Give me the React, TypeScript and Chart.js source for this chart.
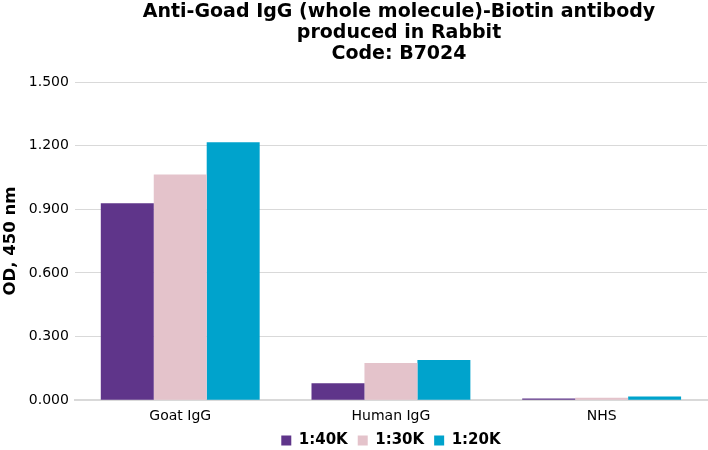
import { useEffect, useRef } from 'react';
import { Chart, registerables } from 'chart.js';

Chart.register(...registerables);

const categories = ['Goat IgG', 'Human IgG', 'NHS'];
const dilutions = ['1:40K', '1:30K', '1:20K'];
const values40k = [0.929, 0.080, 0.008];
const values30k = [1.064, 0.175, 0.012];
const values20k = [1.216, 0.190, 0.018];
const colors = ['#5f358a', '#e4c3cb', '#00a3cc'];
const titleLines = [
  'Anti-Goad IgG (whole molecule)-Biotin antibody',
  'produced in Rabbit',
  'Code: B7024',
];

const FONT = 'DejaVu Sans';

// draws the title lines centred where the reference has them
const titlePlugin = {
  id: 'customTitle',
  afterDraw(chart: Chart) {
    const { ctx } = chart;
    ctx.save();
    ctx.fillStyle = '#000';
    ctx.font = `bold 19px "${FONT}"`;
    ctx.textAlign = 'center';
    ctx.textBaseline = 'alphabetic';
    titleLines.forEach((line, i) => {
      ctx.fillText(line, 399, 17 + i * 21);
    });
    ctx.restore();
  },
};

export default function App() {
  const canvasRef = useRef<HTMLCanvasElement>(null);
  const chartRef = useRef<Chart | null>(null);

  useEffect(() => {
    if (!canvasRef.current) return;
    chartRef.current?.destroy();
    const series = [values40k, values30k, values20k];

    chartRef.current = new Chart(canvasRef.current, {
      type: 'bar',
      data: {
        labels: categories,
        datasets: dilutions.map((label, i) => ({
          label,
          data: series[i],
          backgroundColor: colors[i],
          borderWidth: 0,
          barPercentage: 1,
          categoryPercentage: 0.754,
        })),
      },
      options: {
        responsive: false,
        animation: false,
        layout: { padding: { top: 82, right: 1, left: 0, bottom: -8 } },
        plugins: {
          title: { display: false },
          tooltip: { enabled: false },
          legend: {
            position: 'bottom',
            fullSize: false,
            labels: {
              boxWidth: 10,
              boxHeight: 10,
              padding: 10,
              color: '#000',
              font: { family: FONT, size: 15, weight: 'bold' },
            },
          },
        },
        scales: {
          x: {
            grid: { display: false, drawTicks: false },
            border: { color: '#d9d9d9', width: 2 },
            ticks: { color: '#000', font: { family: FONT, size: 14 }, padding: 8 },
            afterFit: (scale) => {
              scale.height -= 10;
            },
          },
          y: {
            min: 0,
            max: 1.5,
            ticks: {
              stepSize: 0.3,
              color: '#000',
              padding: 6,
              font: { family: FONT, size: 14 },
              callback: (v) => Number(v).toFixed(3),
            },
            grid: { color: '#d9d9d9', lineWidth: 1, drawTicks: false },
            border: { display: false },
            title: {
              display: true,
              text: 'OD, 450 nm',
              color: '#000',
              font: { family: FONT, size: 16.5, weight: 'bold' },
              padding: { top: 1, bottom: 6 },
            },
            afterFit: (scale) => {
              scale.width -= 4;
            },
          },
        },
      },
      plugins: [titlePlugin],
    });

    return () => {
      chartRef.current?.destroy();
    };
  }, []);

  return (
    <div style={{ position: 'absolute', left: 0, top: 0, width: 708, height: 450, background: '#fff' }}>
      <canvas ref={canvasRef} width={708} height={450} />
    </div>
  );
}
